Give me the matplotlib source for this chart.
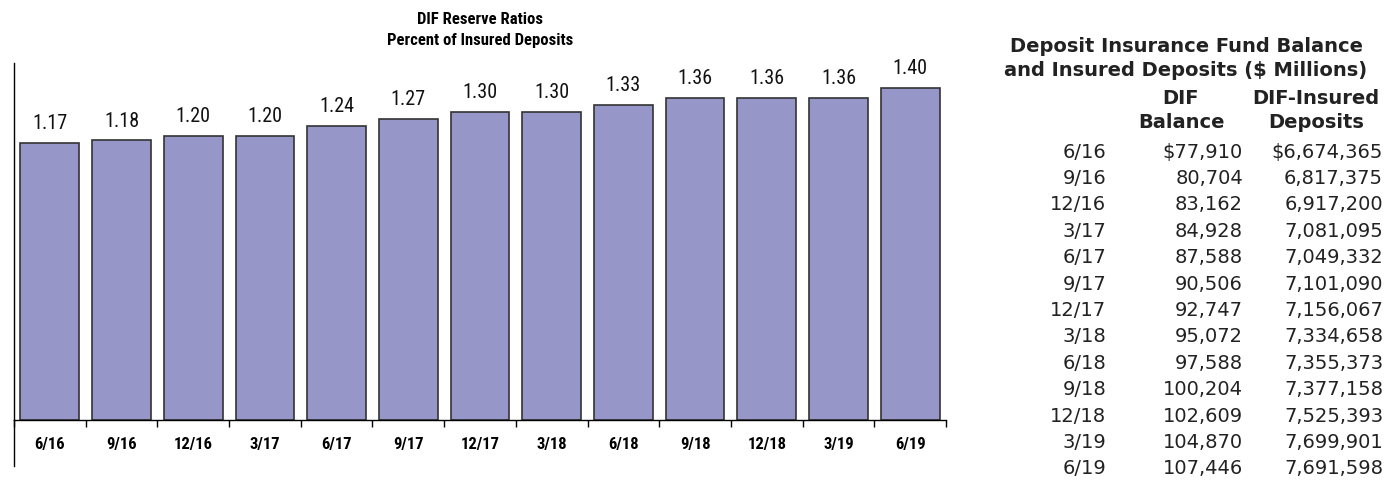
import matplotlib.pyplot as plt
import numpy as np

# data
quarters = ['6/16', '9/16', '12/16', '3/17', '6/17', '9/17', '12/17',
            '3/18', '6/18', '9/18', '12/18', '3/19', '6/19']
reserve_ratio = [1.17, 1.18, 1.20, 1.20, 1.24, 1.27, 1.30,
                 1.30, 1.33, 1.36, 1.36, 1.36, 1.40]
dif_balance = ['$77,910', '80,704', '83,162', '84,928', '87,588', '90,506', '92,747',
               '95,072', '97,588', '100,204', '102,609', '104,870', '107,446']
insured_deposits = ['$6,674,365', '6,817,375', '6,917,200', '7,081,095', '7,049,332',
                    '7,101,090', '7,156,067', '7,334,658', '7,355,373', '7,377,158',
                    '7,525,393', '7,699,901', '7,691,598']

narrow = ['Roboto Condensed', 'DejaVu Sans']
W, H = 1398, 484

fig = plt.figure(figsize=(W / 100, H / 100), dpi=100)

# bar chart
ax = fig.add_axes([14 / W, (H - 420) / H, (946 - 14) / W, (420 - 63) / H])
x = np.arange(len(quarters))
bars = ax.bar(x, reserve_ratio, width=0.82, color='#9696c8', edgecolor='#333333', linewidth=1.2)
ax.set_xlim(-0.5, len(quarters) - 0.5)
ax.set_ylim(0, 1.506)

for b, v in zip(bars, reserve_ratio):
    ax.annotate(f'{v:.2f}', (b.get_x() + b.get_width() / 2, v), xytext=(0, 7),
                textcoords='offset points', ha='center', va='bottom',
                fontsize=14.5, family=narrow, color='#111111')

for s in ['top', 'right']:
    ax.spines[s].set_visible(False)
ax.spines['left'].set_linewidth(1.0)
ax.spines['bottom'].set_linewidth(1.0)
ax.plot([0, 0], [0, -0.13], transform=ax.transAxes, color='black', lw=1.0, clip_on=False)

ax.set_yticks([])
ax.set_xticks(x)
ax.set_xticklabels(quarters, fontsize=12, fontweight='bold', family=narrow)
ax.tick_params(axis='x', which='major', length=0, pad=12)
ax.set_xticks(np.arange(-0.5, len(quarters)), minor=True)
ax.tick_params(axis='x', which='minor', length=5, width=1.0, direction='out')

fig.text(480 / W, 1 - 19 / H, 'DIF Reserve Ratios', ha='center', va='center',
         fontsize=12, fontweight='bold', family=narrow)
fig.text(480 / W, 1 - 41 / H, 'Percent of Insured Deposits', ha='center', va='center',
         fontsize=12, fontweight='bold', family=narrow)

# table on the right
tfont = dict(family='DejaVu Sans', fontweight='bold', fontsize=14, color='#222222')
fig.text(1186 / W, 1 - 47 / H, 'Deposit Insurance Fund Balance', ha='center', va='center', **tfont)
fig.text(1186 / W, 1 - 70 / H, 'and Insured Deposits ($ Millions)', ha='center', va='center', **tfont)
fig.text(1181 / W, 1 - 99 / H, 'DIF', ha='center', va='center', **tfont)
fig.text(1181 / W, 1 - 123 / H, 'Balance', ha='center', va='center', **tfont)
fig.text(1316 / W, 1 - 99 / H, 'DIF-Insured', ha='center', va='center', **tfont)
fig.text(1316 / W, 1 - 123 / H, 'Deposits', ha='center', va='center', **tfont)

rfont = dict(family='DejaVu Sans', fontsize=14, color='#222222')
for i, (q, b, d) in enumerate(zip(quarters, dif_balance, insured_deposits)):
    yy = 1 - (152 + i * 26.4) / H
    fig.text(1106 / W, yy, q, ha='right', va='center', **rfont)
    fig.text(1243 / W, yy, b, ha='right', va='center', **rfont)
    fig.text(1383 / W, yy, d, ha='right', va='center', **rfont)

fig.savefig('out.png', dpi=100)
